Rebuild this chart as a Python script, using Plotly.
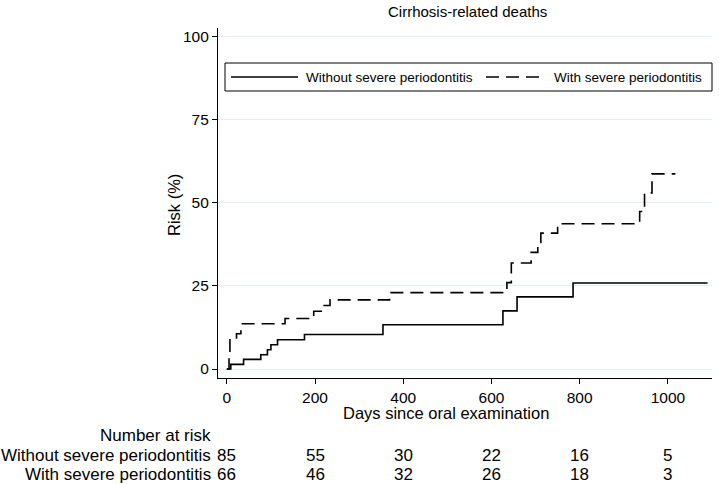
import plotly.graph_objects as go

# Kaplan-Meier style cumulative risk
without_days = [0, 9, 38, 77, 92, 100, 115, 176, 354, 626, 658, 785, 1090]
without_risk = [0, 1.4, 2.9, 4.3, 5.8, 7.3, 8.8, 10.4, 13.3, 17.5, 21.7, 25.9, 25.9]

with_days = [0, 5, 7, 22, 32, 132, 197, 217, 234, 369, 635, 645, 690, 705, 712, 750, 936, 947, 964, 1017]
with_risk = [0, 4.5, 9.1, 10.6, 13.6, 15.2, 17.4, 19.1, 20.8, 23.0, 26.0, 31.9, 35.1, 38.1, 40.9, 43.7, 47.4, 53.0, 58.7, 58.7]

series_names = ["Without severe periodontitis", "With severe periodontitis"]

# Number at risk table
risk_days = [0, 200, 400, 600, 800, 1000]
risk_without = [85, 55, 30, 22, 16, 5]
risk_with = [66, 46, 32, 26, 18, 3]

x_ticks = [0, 200, 400, 600, 800, 1000]
y_ticks = [0, 25, 50, 75, 100]

W, H = 719, 484
L, R, T, B = 218, 7, 28, 106
PW, PH = W - L - R, H - T - B
FONT = "Liberation Sans, Arial, Helvetica, sans-serif"
FS_TICK = 15.5
FS_TABLE = 17
FS_AXTITLE = 16.5
FS_TITLE = 15
FS_LEGEND = 13.5


def py(p):
    """pixel y -> paper y"""
    return (H - B - p) / PH


def px(p):
    """pixel x -> paper x"""
    return (p - L) / PW


fig = go.Figure()
fig.add_trace(go.Scatter(x=without_days, y=without_risk, mode="lines", name=series_names[0],
                         line=dict(color="black", width=1.6, shape="hv"), showlegend=False))
fig.add_trace(go.Scatter(x=with_days, y=with_risk, mode="lines", name=series_names[1],
                         line=dict(color="black", width=1.6, shape="hv", dash="13px,7px"), showlegend=False))

tf = dict(size=FS_TABLE)
annotations = []
# risk table
annotations.append(dict(text="Number at risk", xref="paper", yref="paper", x=px(213), y=py(435),
                        xanchor="right", yanchor="middle", showarrow=False, font=tf))
annotations.append(dict(text=series_names[0], xref="paper", yref="paper", x=px(213), y=py(455),
                        xanchor="right", yanchor="middle", showarrow=False, font=tf))
annotations.append(dict(text=series_names[1], xref="paper", yref="paper", x=px(213), y=py(474),
                        xanchor="right", yanchor="middle", showarrow=False, font=tf))
for d, a, b in zip(risk_days, risk_without, risk_with):
    annotations.append(dict(text=str(a), xref="x", yref="paper", x=d, y=py(455),
                            xanchor="center", yanchor="middle", showarrow=False, font=tf))
    annotations.append(dict(text=str(b), xref="x", yref="paper", x=d, y=py(474),
                            xanchor="center", yanchor="middle", showarrow=False, font=tf))
# axis titles
annotations.append(dict(text="Risk (%)", xref="paper", yref="paper", x=px(174), y=py(205),
                        textangle=-90, xanchor="center", yanchor="middle", showarrow=False,
                        font=dict(size=FS_AXTITLE)))
annotations.append(dict(text="Days since oral examination", xref="paper", yref="paper", x=px(446), y=py(413),
                        xanchor="center", yanchor="middle", showarrow=False, font=dict(size=FS_AXTITLE)))
annotations.append(dict(text="Cirrhosis-related deaths", xref="paper", yref="paper", x=px(467), y=py(12),
                        xanchor="center", yanchor="middle", showarrow=False, font=dict(size=FS_TITLE)))
# custom legend
annotations.append(dict(text=series_names[0], xref="paper", yref="paper", x=px(304), y=py(77),
                        xanchor="left", yanchor="middle", showarrow=False, font=dict(size=FS_LEGEND)))
annotations.append(dict(text=series_names[1], xref="paper", yref="paper", x=px(552), y=py(77),
                        xanchor="left", yanchor="middle", showarrow=False, font=dict(size=FS_LEGEND)))

shapes = [
    dict(type="rect", xref="paper", yref="paper", x0=px(225), x1=px(712), y0=py(91), y1=py(63),
         line=dict(color="black", width=1), fillcolor="white", layer="above"),
    dict(type="line", xref="paper", yref="paper", x0=px(231), x1=px(298), y0=py(77), y1=py(77),
         line=dict(color="black", width=1.6)),
    dict(type="line", xref="paper", yref="paper", x0=px(486), x1=px(546), y0=py(77), y1=py(77),
         line=dict(color="black", width=1.6, dash="13px,7px")),
]

fig.update_layout(
    width=W, height=H,
    margin=dict(l=L, r=R, t=T, b=B),
    paper_bgcolor="white", plot_bgcolor="white",
    font=dict(family=FONT, size=FS_TICK, color="black"),
    annotations=annotations, shapes=shapes,
    showlegend=False,
)
fig.update_xaxes(range=[-20, 1100], tickvals=x_ticks, ticks="outside", ticklen=5, tickwidth=1.2,
                 tickcolor="black", showline=True, linecolor="black", linewidth=1.2,
                 showgrid=False, zeroline=False, mirror=False)
fig.update_yaxes(range=[-2.7, 102.6], tickvals=y_ticks, ticks="outside", ticklen=5, tickwidth=1.2,
                 tickcolor="black", showline=True, linecolor="black", linewidth=1.2,
                 showgrid=True, gridcolor="#e4efef", gridwidth=1, zeroline=False, mirror=False)

fig.write_html("out.html",
               config={"displayModeBar": False},
               post_script="document.body.style.margin='0';document.body.style.padding='0';"
                           "document.body.style.overflow='hidden';")
